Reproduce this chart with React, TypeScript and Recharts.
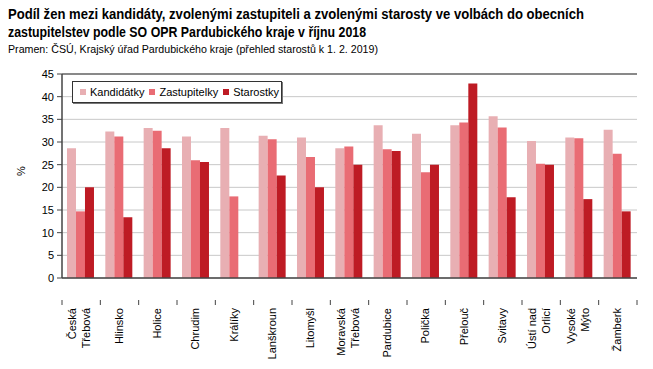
import * as React from 'react';
import {BarChart, CartesianGrid, XAxis, YAxis, Legend, Bar, ReferenceLine} from "recharts";

const categories = [
    "Česká\nTřebová", "Hlinsko", "Holice", "Chrudim", "Králíky", "Lanškroun", "Litomyšl",
    "Moravská\nTřebová", "Pardubice", "Polička", "Přelouč", "Svitavy", "Ústí nad\nOrlicí",
    "Vysoké\nMýto", "Žamberk",
];
const kandidatky = [28.6, 32.3, 33.1, 31.2, 33.1, 31.4, 31.0, 28.6, 33.7, 31.8, 33.7, 35.7, 30.2, 31.0, 32.7];
const zastupitelky = [14.7, 31.2, 32.5, 26.0, 18.0, 30.6, 26.7, 29.0, 28.4, 23.3, 34.3, 33.2, 25.2, 30.8, 27.4];
const starostky = [20.0, 13.4, 28.6, 25.6, 0, 22.6, 20.0, 25.0, 28.0, 25.0, 42.9, 17.8, 25.0, 17.4, 14.7];
const yTicks = [0, 5, 10, 15, 20, 25, 30, 35, 40, 45];

const seriesNames = ["Kandidátky", "Zastupitelky", "Starostky"];
const colors = ["#E8AFB3", "#E96C74", "#BE1B24"];

const data = categories.map((name, i) => ({
    name,
    kandidatky: kandidatky[i],
    zastupitelky: zastupitelky[i],
    starostky: starostky[i],
}));

const FONT = "Arial, 'Liberation Sans', sans-serif";
const W = 653;
const H = 369;
const M = {top: 74, right: 16, left: 0, bottom: 0};
const Y_W = 62;
const X_H = 69;
const band = (W - M.left - M.right - Y_W) / categories.length;

function CategoryTick(props: any) {
    const {x, index, payload} = props;
    const axisY = H - X_H;
    const lines: string[] = String(payload.value).split("\n");
    const offsets = lines.length === 1 ? [4] : [-4, 10];
    return (
        <g>
            <line x1={x - band / 2} x2={x - band / 2} y1={axisY} y2={axisY + 5} stroke="#444" />
            {index === categories.length - 1 &&
                <line x1={x + band / 2} x2={x + band / 2} y1={axisY} y2={axisY + 5} stroke="#444" />}
            <g transform={`translate(${x - 1},${axisY + 8}) rotate(-90)`}>
                {lines.map((l, i) => (
                    <text key={i} x={0} y={offsets[i]} textAnchor="end" fontSize={11} fontFamily={FONT} fill="#000">{l}</text>
                ))}
            </g>
        </g>
    );
}

function LegendBox() {
    return (
        <div style={{
            border: "1px solid #333", boxShadow: "1px 1px 0 #777", background: "#fff",
            width: 210, height: 22, display: "flex", alignItems: "center",
            fontFamily: FONT, fontSize: 11, color: "#000", boxSizing: "border-box",
        }}>
            {seriesNames.map((n, i) => (
                <span key={n} style={{display: "flex", alignItems: "center", marginLeft: i === 0 ? 7 : 5}}>
                    <span style={{width: 6, height: 6, background: colors[i], display: "inline-block", marginRight: 4}} />
                    {n}
                </span>
            ))}
        </div>
    );
}

export default function App() {
    return (
        <div style={{position: "relative", width: W, height: H, margin: "-8px 0 0 -8px", background: "#fff"}}>
            <svg width={W} height={60} style={{position: "absolute", left: 0, top: 0}}>
                <text x={8} y={19} fontFamily={FONT} fontWeight="bold" fontSize={14} textLength={576} lengthAdjust="spacingAndGlyphs">
                    Podíl žen mezi kandidáty, zvolenými zastupiteli a zvolenými starosty ve volbách do obecních
                </text>
                <text x={8} y={37} fontFamily={FONT} fontWeight="bold" fontSize={14} textLength={358} lengthAdjust="spacingAndGlyphs">
                    zastupitelstev podle SO OPR Pardubického kraje v říjnu 2018
                </text>
                <text x={8} y={53} fontFamily={FONT} fontSize={11} textLength={370} lengthAdjust="spacingAndGlyphs">
                    Pramen: ČSÚ, Krajský úřad Pardubického kraje (přehled starostů k 1. 2. 2019)
                </text>
            </svg>
            <div style={{position: "absolute", left: 0, top: 0}}>
                <BarChart width={W} height={H} data={data} margin={M} barCategoryGap="13%" barGap={0}>
                    <CartesianGrid vertical={false} stroke="#c8c8c8" yAxisId="left" />
                    <XAxis dataKey="name" height={X_H} interval={0} tickLine={false}
                           axisLine={{stroke: "#444", strokeWidth: 1.5}} tick={<CategoryTick />} />
                    <YAxis yAxisId="left" width={Y_W} domain={[0, 45]} ticks={yTicks} interval={0}
                           tickSize={5} tickMargin={3}
                           axisLine={{stroke: "#444", strokeWidth: 1.5}} tickLine={{stroke: "#444"}}
                           tick={{fontSize: 11, fontFamily: FONT, fill: "#000"}}
                           label={{value: "%", angle: -90, position: "insideLeft", offset: 21, fontSize: 11, fontFamily: FONT, fill: "#000"}} />
                    <YAxis yAxisId="right" orientation="right" width={0} domain={[0, 45]} tick={false}
                           tickLine={false} axisLine={{stroke: "#6b6b6b", strokeWidth: 1.5}} />
                    <ReferenceLine yAxisId="left" y={45} stroke="#6b6b6b" strokeWidth={1.5} />
                    <Legend content={<LegendBox />} wrapperStyle={{position: "absolute", left: 72, top: 81, width: 210}} />
                    <Bar yAxisId="left" dataKey="kandidatky" name={seriesNames[0]} fill={colors[0]} isAnimationActive={false} />
                    <Bar yAxisId="left" dataKey="zastupitelky" name={seriesNames[1]} fill={colors[1]} isAnimationActive={false} />
                    <Bar yAxisId="left" dataKey="starostky" name={seriesNames[2]} fill={colors[2]} isAnimationActive={false} />
                </BarChart>
            </div>
        </div>
    );
}
